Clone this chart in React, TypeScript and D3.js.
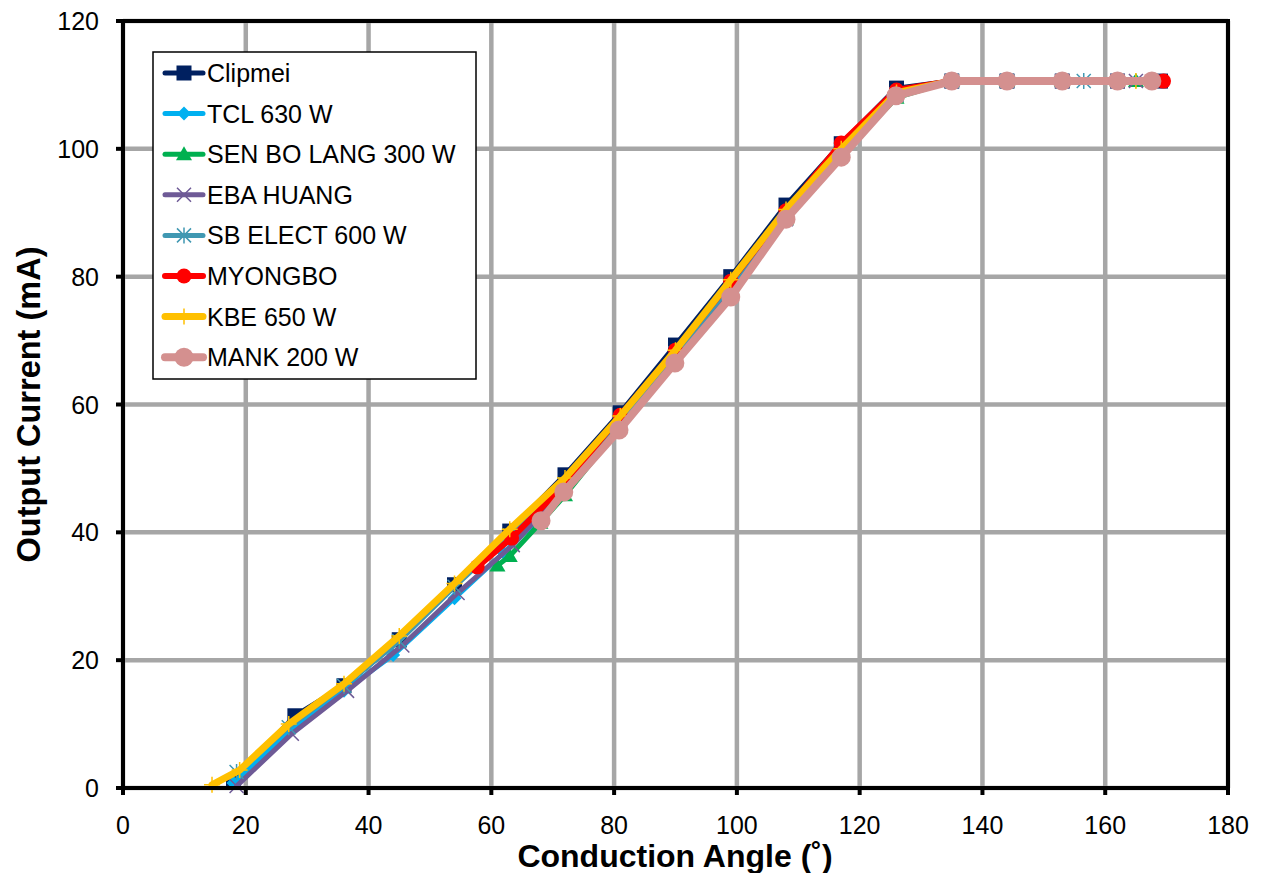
import React from "react";
import * as d3 from "d3";

const xTicks = [0, 20, 40, 60, 80, 100, 120, 140, 160, 180];
const yTicks = [0, 20, 40, 60, 80, 100, 120];

const clipmeiX = [18, 28, 36, 45, 54, 63, 72, 81, 90, 99, 108, 117, 126, 135, 144, 153, 162, 169];
const clipmeiY = [1, 11.3, 16, 23.2, 31.8, 40.2, 49, 58.7, 69.3, 80, 91.2, 100.8, 109.5, 110.6, 110.6, 110.6, 110.6, 110.6];

const tclX = [18, 27, 36, 44, 54, 62, 72, 81, 90, 99, 108, 117, 126, 135, 144, 153, 162, 165];
const tclY = [0.8, 8.8, 15.2, 20.8, 29.7, 36.8, 46, 57, 67.5, 78.5, 89.5, 99.5, 108.5, 110.6, 110.6, 110.6, 110.6, 110.6];

const senX = [61, 63, 68, 72, 81, 90, 99, 108, 117, 126, 135, 144, 153, 162, 165];
const senY = [34.8, 36.3, 41.5, 45.8, 56.5, 67, 77.5, 89, 99, 108, 110.6, 110.6, 110.6, 110.6, 110.6];

const ebaX = [18.5, 27.5, 36.5, 45.5, 54.5, 63.5, 72, 81, 90, 99, 108, 117, 126, 135, 144, 153, 162, 165];
const ebaY = [0.3, 8.5, 15.2, 22.3, 30.5, 38, 47, 57, 67.5, 78, 89, 99.5, 108.5, 110.6, 110.6, 110.6, 110.6, 110.6];

const sbX = [18.5, 27, 36, 45, 54, 63, 72, 81, 90, 99, 108, 117, 126, 135, 144, 156.5];
const sbY = [2.5, 9.5, 16, 23, 31.5, 39.5, 47.5, 57.5, 68, 78.5, 89.5, 99.8, 108.5, 110.6, 110.6, 110.6];

const myongboX = [57.7, 63.3, 72, 81, 90, 99, 108, 117, 126, 135, 144, 153, 162, 169.5];
const myongboY = [34.6, 39.1, 47.5, 58.3, 68.5, 79.3, 90.3, 100.9, 109.2, 110.6, 110.6, 110.6, 110.6, 110.6];

const kbeX = [14.5, 19, 27, 36, 45, 54, 63, 72, 81, 90, 99, 108, 117, 126, 135, 144, 153, 162, 165];
const kbeY = [0.5, 2.8, 10, 16.3, 23.8, 32, 40.5, 48.5, 58.2, 68.5, 79.5, 90.5, 100, 108.8, 110.6, 110.6, 110.6, 110.6, 110.6];

const mankX = [68.1, 71.8, 80.8, 89.9, 99, 108, 117, 125.9, 135, 144, 153, 162, 167.6];
const mankY = [41.8, 46.3, 56, 66.5, 76.8, 89, 98.7, 108.3, 110.6, 110.6, 110.6, 110.6, 110.6];

const seriesNames = ["Clipmei", "TCL 630 W", "SEN BO LANG 300 W", "EBA HUANG", "SB ELECT 600 W", "MYONGBO", "KBE 650 W", "MANK 200 W"];

type Marker = "square" | "diamond" | "triangle" | "x" | "star" | "circle" | "plus" | "bigcircle";

const series = [
  { name: seriesNames[0], xs: clipmeiX, ys: clipmeiY, color: "#002060", width: 5, marker: "square" as Marker },
  { name: seriesNames[1], xs: tclX, ys: tclY, color: "#00B0F0", width: 5, marker: "diamond" as Marker },
  { name: seriesNames[2], xs: senX, ys: senY, color: "#00B050", width: 5, marker: "triangle" as Marker },
  { name: seriesNames[3], xs: ebaX, ys: ebaY, color: "#6E5A96", width: 5, marker: "x" as Marker },
  { name: seriesNames[4], xs: sbX, ys: sbY, color: "#4098B2", width: 5, marker: "star" as Marker },
  { name: seriesNames[5], xs: myongboX, ys: myongboY, color: "#FF0000", width: 6, marker: "circle" as Marker },
  { name: seriesNames[6], xs: kbeX, ys: kbeY, color: "#FFC000", width: 7, marker: "plus" as Marker },
  { name: seriesNames[7], xs: mankX, ys: mankY, color: "#D4908F", width: 8, marker: "bigcircle" as Marker },
];

const W = 1264, H = 873;
const L = 123, R = 1228, T = 21, B = 788;
const FONT = "'Liberation Sans', Arial, sans-serif";

function MarkerShape({ type, x, y, color }: { type: Marker; x: number; y: number; color: string }) {
  switch (type) {
    case "square":
      return <rect x={x - 7.5} y={y - 7.5} width={15} height={15} fill={color} />;
    case "diamond":
      return <path d={`M${x},${y - 7}L${x + 7},${y}L${x},${y + 7}L${x - 7},${y}Z`} fill={color} />;
    case "triangle":
      return <path d={`M${x},${y - 8}L${x + 8},${y + 6}L${x - 8},${y + 6}Z`} fill={color} />;
    case "x":
      return <path d={`M${x - 7},${y - 7}L${x + 7},${y + 7}M${x - 7},${y + 7}L${x + 7},${y - 7}`} stroke={color} strokeWidth={1.5} />;
    case "star":
      return <path d={`M${x - 7},${y - 7}L${x + 7},${y + 7}M${x - 7},${y + 7}L${x + 7},${y - 7}M${x},${y - 8}L${x},${y + 8}`} stroke={color} strokeWidth={1.5} />;
    case "circle":
      return <circle cx={x} cy={y} r={7.5} fill={color} />;
    case "plus":
      return <path d={`M${x - 8},${y}L${x + 8},${y}M${x},${y - 8}L${x},${y + 8}`} stroke={color} strokeWidth={1.5} />;
    case "bigcircle":
      return <circle cx={x} cy={y} r={9.5} fill={color} />;
  }
  return null;
}

export default function App() {
  const xScale = d3.scaleLinear().domain([0, 180]).range([L, R]);
  const yScale = d3.scaleLinear().domain([0, 120]).range([B, T]);
  const line = d3.line<[number, number]>().x(d => xScale(d[0])).y(d => yScale(d[1]));

  const legX = 153, legY = 52, legW = 323, legH = 327;
  const rowH = 40.6;

  return (
    <svg width={W} height={H} style={{ position: "absolute", left: 0, top: 0, background: "#fff" }}>
      <rect x={0} y={0} width={W} height={H} fill="#fff" />
      {xTicks.map(t => (
        <line key={"gx" + t} x1={xScale(t)} x2={xScale(t)} y1={T} y2={B} stroke="#A6A6A6" strokeWidth={4.5} />
      ))}
      {yTicks.map(t => (
        <line key={"gy" + t} x1={L} x2={R} y1={yScale(t)} y2={yScale(t)} stroke="#A6A6A6" strokeWidth={4.5} />
      ))}
      {xTicks.map(t => (
        <line key={"tx" + t} x1={xScale(t)} x2={xScale(t)} y1={B} y2={B + 7} stroke="#000" strokeWidth={4} />
      ))}
      {yTicks.map(t => (
        <line key={"ty" + t} x1={L - 7} x2={L} y1={yScale(t)} y2={yScale(t)} stroke="#000" strokeWidth={4} />
      ))}
      {series.map(s => {
        const pts = s.xs.map((x, i) => [x, s.ys[i]] as [number, number]);
        return (
          <g key={s.name}>
            <path d={line(pts) || ""} fill="none" stroke={s.color} strokeWidth={s.width} strokeLinejoin="round" strokeLinecap="round" />
            {pts.map((p, i) => (
              <MarkerShape key={i} type={s.marker} x={xScale(p[0])} y={yScale(p[1])} color={s.color} />
            ))}
          </g>
        );
      })}
      <rect x={L} y={T} width={R - L} height={B - T} fill="none" stroke="#000" strokeWidth={4} />
      {xTicks.map(t => (
        <text key={"lx" + t} x={xScale(t)} y={834} textAnchor="middle" fontFamily={FONT} fontSize={25} fill="#000">{t}</text>
      ))}
      {yTicks.map(t => (
        <text key={"ly" + t} x={99} y={yScale(t) + 9} textAnchor="end" fontFamily={FONT} fontSize={25} fill="#000">{t}</text>
      ))}
      <text x={675} y={867} textAnchor="middle" fontFamily={FONT} fontSize={32} fontWeight="bold" fill="#000">Conduction Angle (˚)</text>
      <text transform={`translate(40,${(T + B) / 2}) rotate(-90)`} textAnchor="middle" fontFamily={FONT} fontSize={32.5} fontWeight="bold" fill="#000">Output Current (mA)</text>
      <rect x={legX} y={legY} width={legW} height={legH} fill="#fff" stroke="#000" strokeWidth={1.5} />
      {series.map((s, i) => {
        const cy = 73 + i * rowH;
        return (
          <g key={"leg" + s.name}>
            <line x1={165} x2={203} y1={cy} y2={cy} stroke={s.color} strokeWidth={s.width} strokeLinecap="round" />
            <MarkerShape type={s.marker} x={184} y={cy} color={s.color} />
            <text x={207} y={cy + 9} fontFamily={FONT} fontSize={25} fill="#000">{s.name}</text>
          </g>
        );
      })}
    </svg>
  );
}
